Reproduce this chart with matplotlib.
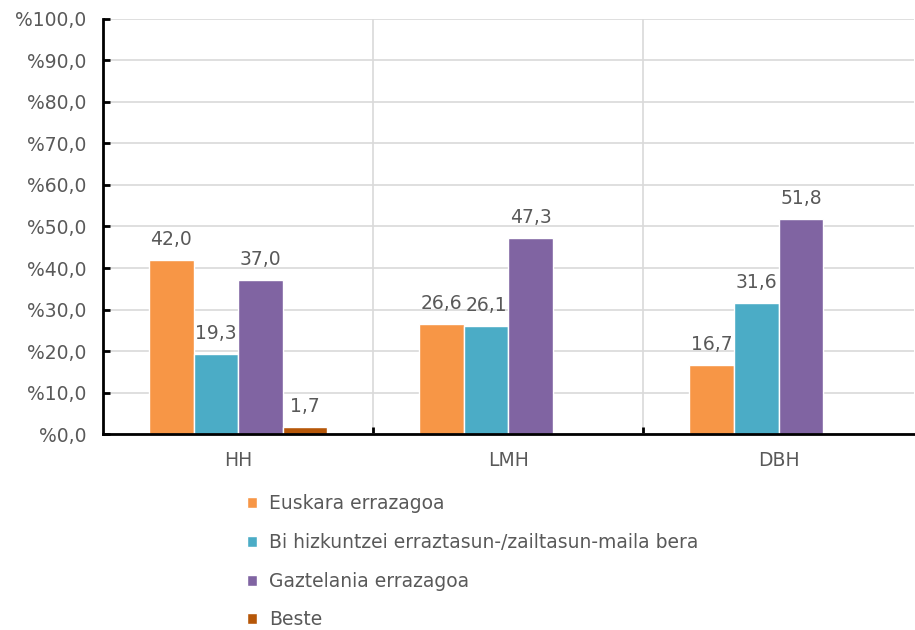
import matplotlib.pyplot as plt
from matplotlib.ticker import FuncFormatter
import numpy as np

plt.rcParams['font.family'] = ['DejaVu Sans']

categories = ['HH', 'LMH', 'DBH']
series_names = ['Euskara errazagoa',
                'Bi hizkuntzei erraztasun-/zailtasun-maila bera',
                'Gaztelania errazagoa',
                'Beste']
euskara = [42.0, 26.6, 16.7]
biak = [19.3, 26.1, 31.6]
gaztelania = [37.0, 47.3, 51.8]
beste = [1.7, None, None]

COLORS = ['#F79646', '#4BACC6', '#8064A2', '#B65708']
TXT = '#595959'
FS = 13.5

fig = plt.figure(figsize=(9.15, 6.3), dpi=100)
ax = fig.add_axes([0.1126, 0.311, 0.886, 0.659])

x = np.arange(len(categories))
w = 0.165
all_series = [euskara, biak, gaztelania, beste]
for i, (vals, name) in enumerate(zip(all_series, series_names)):
    xs = [xi + (i - 1.5) * w for xi, v in zip(x, vals) if v is not None]
    vs = [v for v in vals if v is not None]
    bars = ax.bar(xs, vs, width=w, color=COLORS[i], edgecolor='white',
                  linewidth=1, label=name, zorder=3)
    for b, v in zip(bars, vs):
        ax.annotate(('%.1f' % v).replace('.', ','),
                    (b.get_x() + b.get_width() / 2, v),
                    xytext=(0, 8), textcoords='offset points',
                    ha='center', va='bottom', fontsize=FS, color=TXT)

ax.set_xlim(-0.5, 2.5)
ax.set_ylim(0, 100)
ax.set_yticks(np.arange(0, 101, 10))
ax.yaxis.set_major_formatter(FuncFormatter(lambda v, p: ('%%%.1f' % v).replace('.', ',')))
ax.set_xticks(x)
ax.set_xticklabels(categories)
ax.set_xticks([0.5, 1.5], minor=True)
ax.tick_params(axis='x', which='major', length=0, pad=12, labelsize=FS, labelcolor=TXT)
ax.tick_params(axis='x', which='minor', length=5, width=2, direction='in', color='black')
ax.tick_params(axis='y', length=5, width=2, direction='in', pad=12, labelsize=FS,
               labelcolor=TXT, color='black')

ax.grid(True, axis='y', color='#D9D9D9', linewidth=1.2, zorder=0)
ax.grid(True, axis='x', which='minor', color='#D9D9D9', linewidth=1.2, zorder=0)
for s in ['top', 'right']:
    ax.spines[s].set_visible(False)
for s in ['left', 'bottom']:
    ax.spines[s].set_linewidth(2)
    ax.spines[s].set_color('black')
    ax.spines[s].set_zorder(4)

leg = fig.legend(loc='upper left', bbox_to_anchor=(0.251, 0.242), frameon=False,
                 fontsize=FS, labelcolor=TXT, handlelength=0.55, handleheight=0.55,
                 handletextpad=0.65, labelspacing=1.05)

plt.savefig('out.png', dpi=100)
